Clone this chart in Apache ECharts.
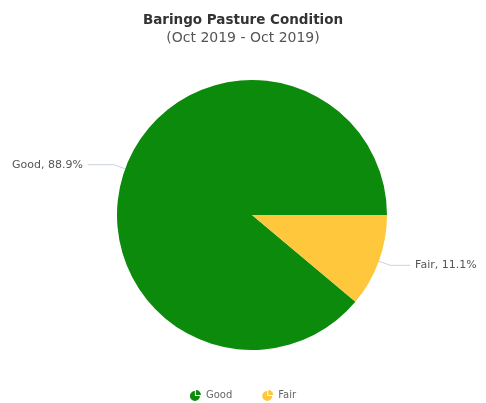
<!DOCTYPE html>
<html>
<head>
<meta charset="utf-8">
<script src="https://cdn.jsdelivr.net/npm/echarts@6/dist/echarts.min.js"></script>
<style>
html,body{margin:0;padding:0;background:#fff;}
#chart{width:486px;height:403px;}
</style>
</head>
<body>
<div id="chart"></div>
<script>
// Pasture condition shares for Baringo county
const categories = ['Good', 'Fair'];
const shares = [88.9, 11.1];
const colors = ['#0b8a0b', '#ffc83c'];
const connectorTail = [26, 20];

const FONT = 'DejaVu Sans, Verdana, sans-serif';
const pieIcon = 'path://M12,12 L12,2 A10,10 0 1,0 22,12 Z M14,10 L14,0 A10,10 0 0,1 24,10 Z';

const chart = echarts.init(document.getElementById('chart'));
chart.setOption({
  animation: false,
  title: {
    text: 'Baringo Pasture Condition',
    subtext: '(Oct 2019 - Oct 2019)',
    left: 'center',
    top: 8,
    itemGap: 4,
    textStyle: { fontFamily: FONT, fontSize: 13.5, fontWeight: 'bold', color: '#333' },
    subtextStyle: { fontFamily: FONT, fontSize: 14, color: '#555' }
  },
  legend: {
    top: 385,
    left: 'center',
    itemWidth: 11,
    itemHeight: 11,
    itemGap: 30,
    icon: pieIcon,
    textStyle: { fontFamily: FONT, fontSize: 10, color: '#666' },
    data: categories
  },
  color: colors,
  series: [{
    type: 'pie',
    center: [252, 215],
    radius: 135,
    startAngle: -40,
    clockwise: true,
    label: {
      formatter: p => p.name + ', ' + p.value.toFixed(1) + '%',
      fontFamily: FONT,
      fontSize: 11,
      color: '#555',
      overflow: 'none'
    },
    labelLine: {
      length: 12,
      length2: 26,
      lineStyle: { color: '#c8d2dc', width: 1 }
    },
    itemStyle: { borderWidth: 0 },
    data: categories.map((c, i) => ({
      name: c,
      value: shares[i],
      labelLine: { length2: connectorTail[i] }
    }))
  }]
});
</script>
</body>
</html>
